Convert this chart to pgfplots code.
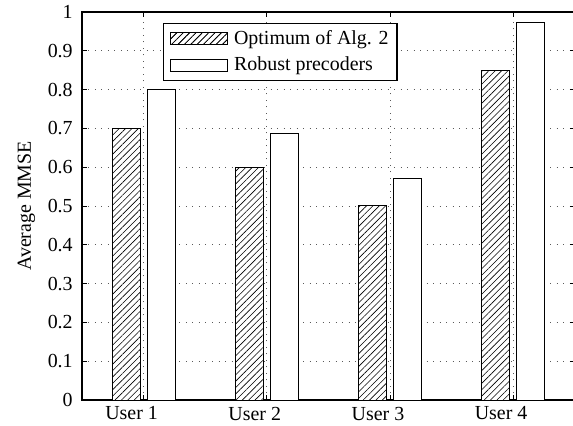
\documentclass[border=0pt]{standalone}
\usepackage{pgfplots}
\pgfplotsset{compat=1.18}
\usepackage{fontspec}
\setmainfont{Liberation Serif}
\usetikzlibrary{patterns.meta}
\begin{document}
\fontsize{20}{24}\selectfont
\begin{tikzpicture}
\useasboundingbox (-82bp,-26bp) rectangle (491bp,400bp);
\begin{axis}[
  scale only axis, width=492.7bp, height=388bp,
  xmin=0.5, xmax=4.5, ymin=0, ymax=1,
  xtick={1,2,3,4}, xticklabels={User 1,User 2,User 3,User 4},
  ytick={0,0.1,0.2,0.3,0.4,0.5,0.6,0.7,0.8,0.9,1},
  yticklabels={0,0.1,0.2,0.3,0.4,0.5,0.6,0.7,0.8,0.9,1},
  /pgf/number format/assume math mode=true,
  tick align=inside, major tick length=5bp,
  tick style={black, line width=0.6bp},
  axis line style={black, line width=1.1bp},
  grid=major,
  major grid style={black!65, line width=0.8bp, dash pattern=on 1bp off 5.5bp},
  ticklabel style={font=\fontsize{20}{24}\selectfont},
  xticklabel style={xshift=-12bp},
  yticklabel style={xshift=-2.5bp},
  ylabel={Average MMSE},
  ylabel style={at={(axis description cs:-0.113,0.5)}, anchor=center, font=\fontsize{20}{24}\selectfont},
  legend cell align=left,
  legend style={at={(rel axis cs:0.1644,0.9716)}, anchor=north west, draw=black, line width=1.2bp,
    inner xsep=6bp, inner ysep=4bp, row sep=5bp, column sep=4bp,
    nodes={inner sep=2.5bp, font=\fontsize{20}{24}\selectfont}},
]
\addplot[ybar, bar width=0.227, bar shift=-0.142, draw=black, line width=1bp, fill=white,
  postaction={pattern={Lines[angle=45,distance=4.5bp,line width=0.6bp]}},
  legend image code/.code={\draw[line width=1bp, fill=white, postaction={pattern={Lines[angle=45,distance=4.5bp,line width=0.6bp]}}] (0bp,-6bp) rectangle (57bp,6bp);}]
  coordinates {(1,0.70) (2,0.60) (3,0.50) (4,0.85)};
\addlegendentry{Optimum of Alg. 2}
\addplot[ybar, bar width=0.227, bar shift=0.142, draw=black, line width=1bp, fill=white,
  legend image code/.code={\draw[line width=1bp, fill=white] (0bp,-6bp) rectangle (57bp,6bp);}]
  coordinates {(1,0.80) (2,0.686) (3,0.572) (4,0.972)};
\addlegendentry{Robust precoders}
\end{axis}
\end{tikzpicture}
\end{document}
